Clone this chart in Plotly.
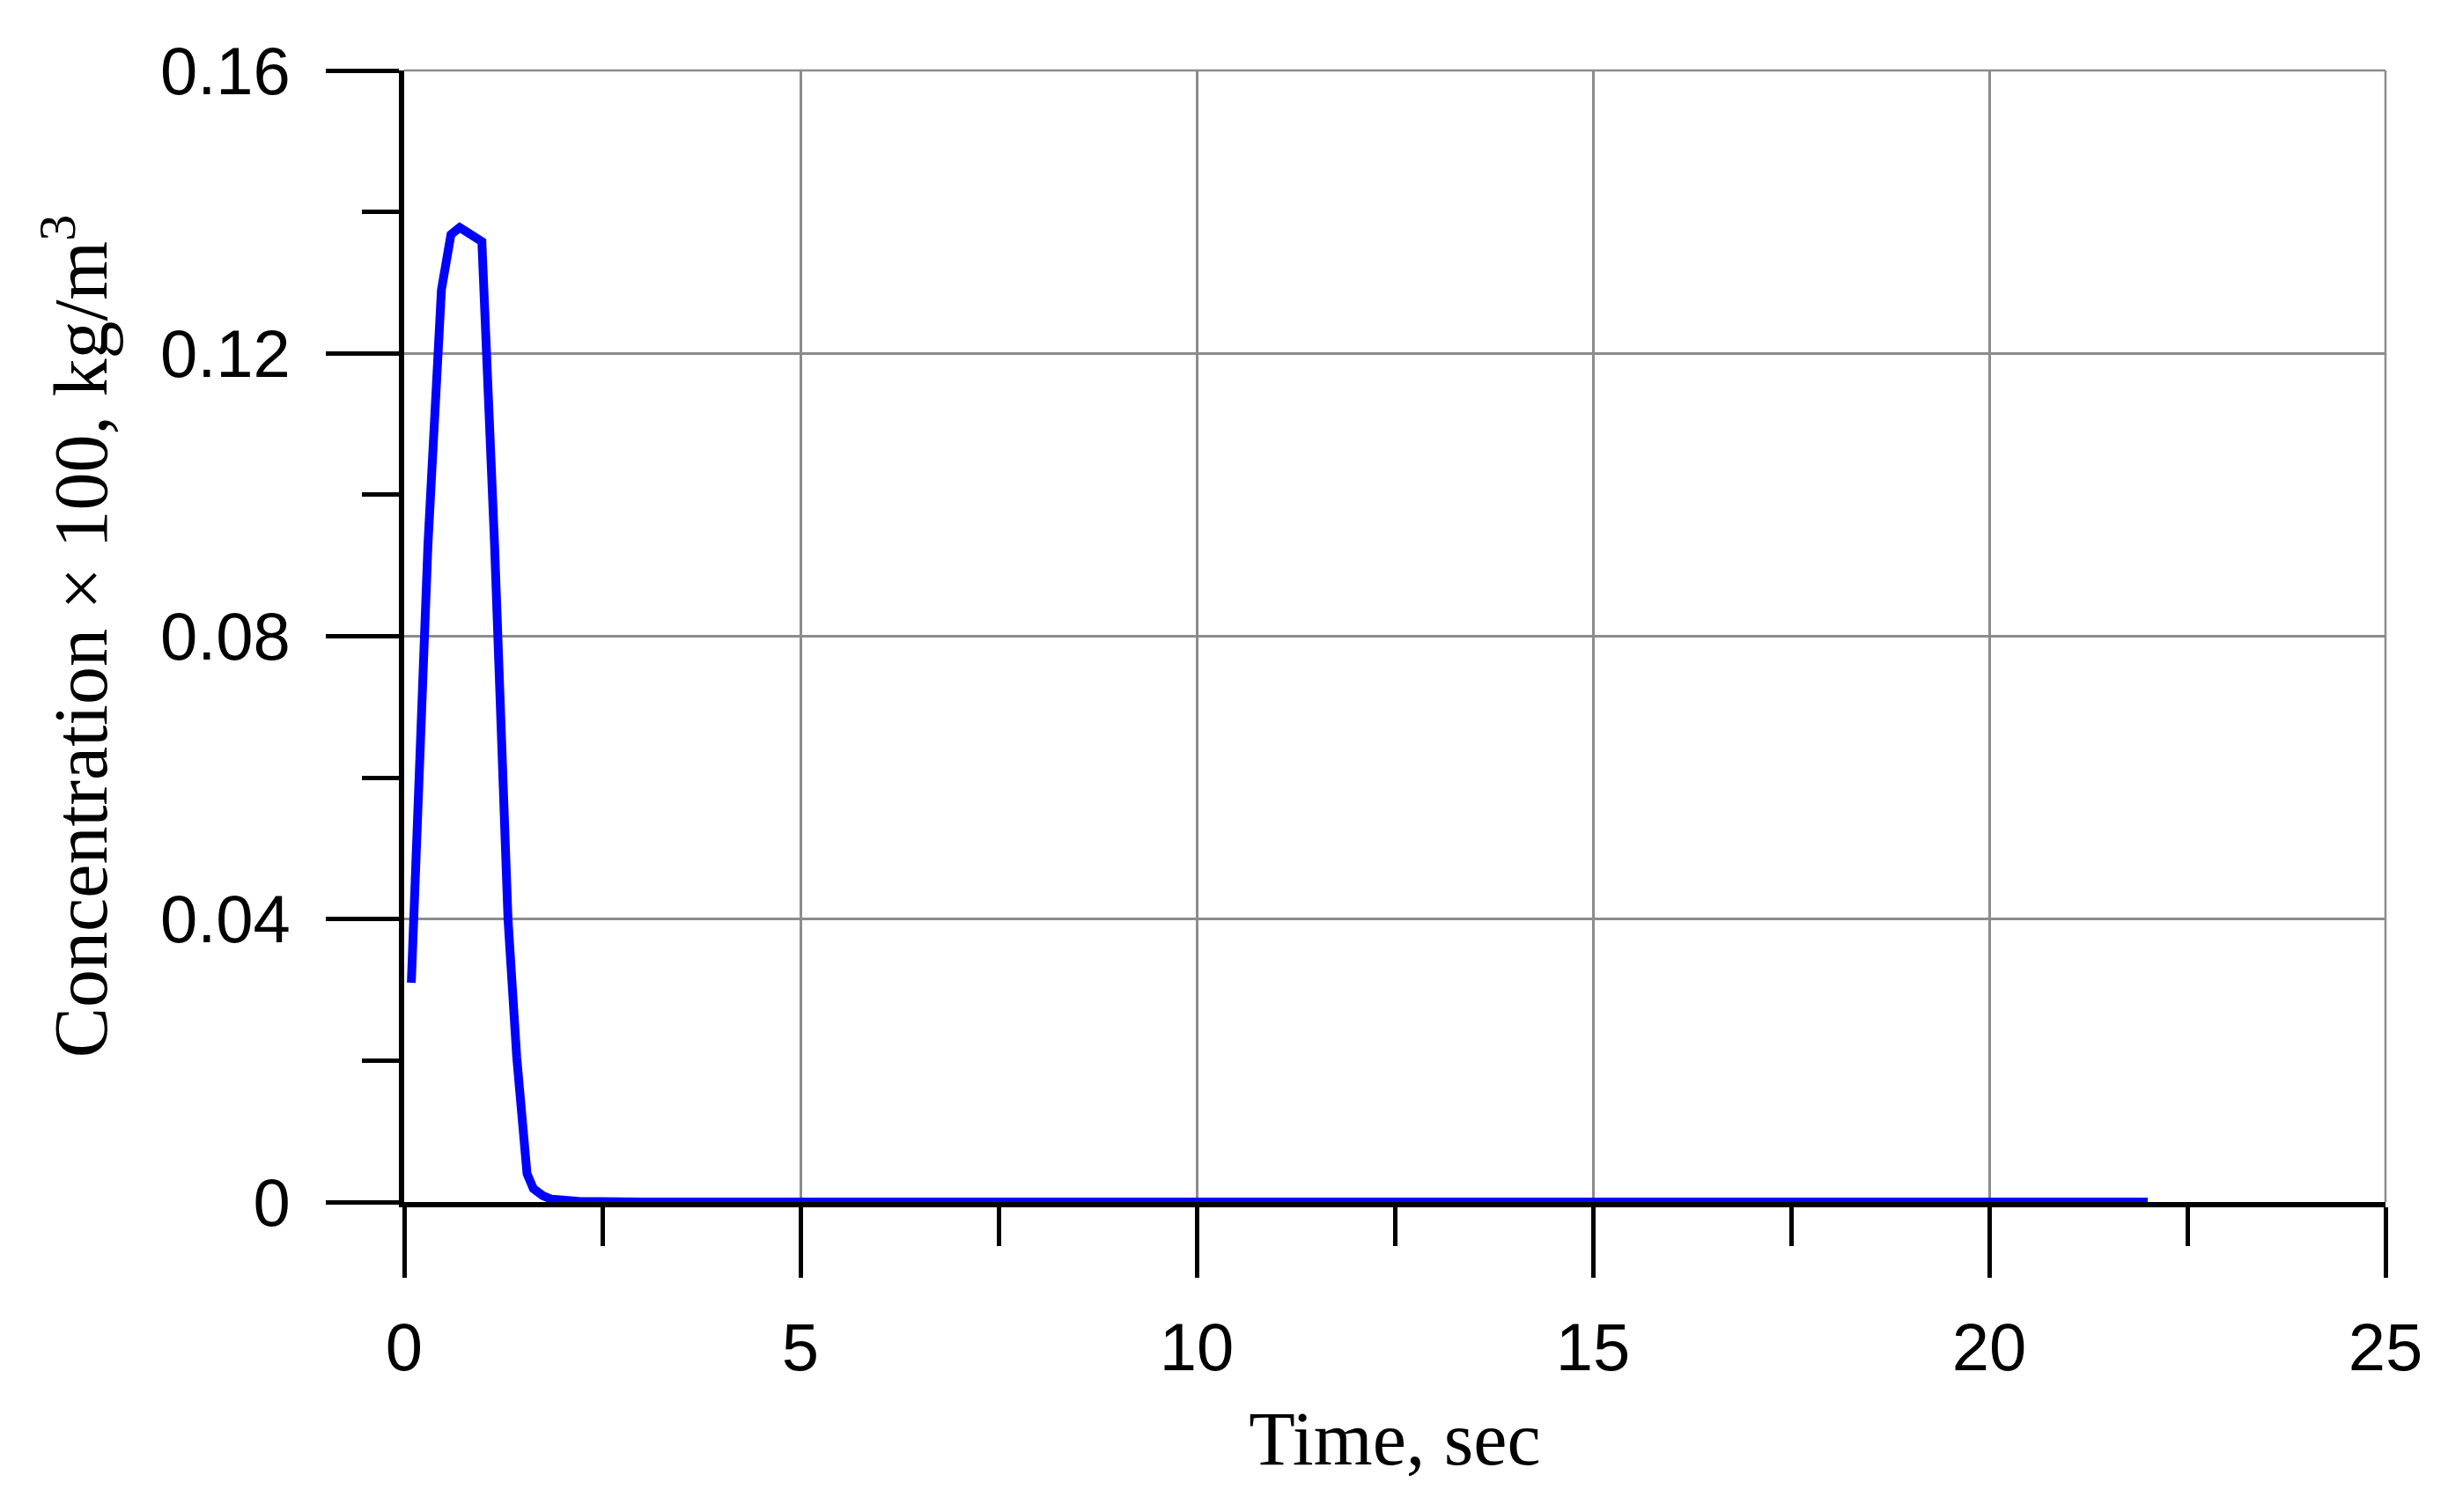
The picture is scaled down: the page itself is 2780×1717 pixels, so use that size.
import plotly.graph_objects as go

# concentration pulse
time_s = [0.09, 0.20, 0.30, 0.47, 0.59, 0.70, 0.98, 1.14, 1.31, 1.42, 1.49, 1.55, 1.63, 1.75, 1.86, 2.0, 2.2, 3.0, 22.0]
conc = [0.031, 0.064, 0.093, 0.129, 0.1368, 0.1378, 0.1358, 0.093, 0.040, 0.0205, 0.0102, 0.004, 0.0019,
        0.0009, 0.0004, 0.0002, 0.0001, 0.0, 0.0]

x_ticks = [0, 5, 10, 15, 20, 25]
y_ticks = [0, 0.04, 0.08, 0.12, 0.16]
y_tick_text = ["0", "0.04", "0.08", "0.12", "0.16"]

TICK_FONT = dict(family="Liberation Sans, Arial, sans-serif", size=76, color="black")
TITLE_FONT = dict(family="Liberation Serif, Times New Roman, serif", size=86, color="black")
GRID = "#8c8c8c"

fig = go.Figure()
fig.add_trace(go.Scatter(x=time_s, y=conc, mode="lines", line=dict(color="#0000ff", width=10), showlegend=False))

axis_common = dict(
    showline=True, linecolor="black", linewidth=6,
    ticks="outside", tickcolor="black", tickwidth=5,
    showgrid=True, gridcolor=GRID, gridwidth=2.5,
    zeroline=False, layer="below traces",
    tickfont=TICK_FONT,
)

fig.update_xaxes(
    **axis_common,
    range=[0, 25], tickvals=x_ticks, ticklen=80,
    minor=dict(dtick=2.5, ticks="outside", ticklen=44, tickwidth=5, tickcolor="black", showgrid=False),
    title=dict(text="Time, sec", font=TITLE_FONT, standoff=34),
    ticklabelstandoff=14,
)
fig.update_yaxes(
    **axis_common,
    range=[0, 0.16], tickvals=y_ticks, ticktext=y_tick_text, ticklen=83,
    minor=dict(dtick=0.02, ticks="outside", ticklen=42, tickwidth=5, tickcolor="black", showgrid=False),
    title=dict(text="Concentration × 100, kg/m<sup>3</sup>", font=TITLE_FONT, standoff=34),
    ticklabelstandoff=25,
)

# thin grey frame on the top and right edges
fig.add_shape(type="line", xref="x domain", yref="y domain", x0=0, x1=1, y0=1, y1=1,
              line=dict(color=GRID, width=2.5), layer="below")
fig.add_shape(type="line", xref="x domain", yref="y domain", x0=1, x1=1, y0=0, y1=1,
              line=dict(color=GRID, width=2.5), layer="below")

# the page body adds an 8 px offset, so the margins are shifted to compensate
fig.update_layout(
    width=2780, height=1717,
    margin=dict(l=451, r=79, t=72, b=360),
    plot_bgcolor="white", paper_bgcolor="white",
)

fig.write_html("out.html")
